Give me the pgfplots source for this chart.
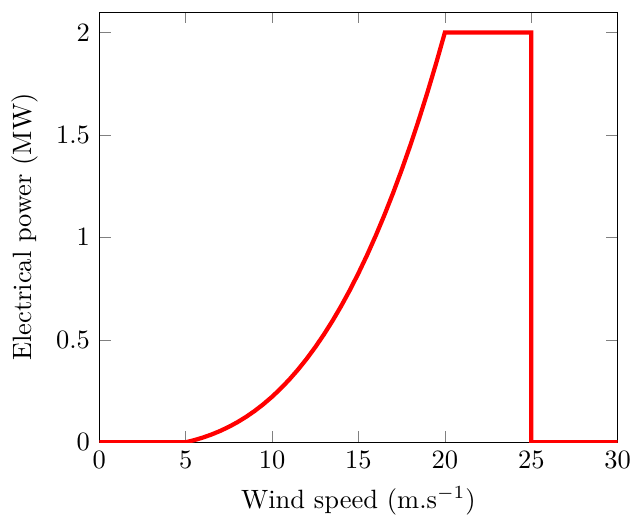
\documentclass[border=0pt]{standalone}
\usepackage{pgfplots}
\pgfplotsset{compat=1.18}
\begin{document}
\begin{tikzpicture}
\begin{axis}[
  scale only axis,
  width=195.8pt, height=162.5pt,
  xmin=0, xmax=30, ymin=0, ymax=2.1,
  xlabel={Wind speed (m.s$^{-1}$)},
  ylabel={Electrical power (MW)},
  xtick={0,5,10,15,20,25,30},
  ytick={0,0.5,1,1.5,2},
]
\addplot[red, ultra thick, line join=miter] coordinates {
(0,0) (5,0) (5.5,0.0105) (6,0.0231) (6.5,0.0380) (7,0.0554) (7.5,0.0754)
(8,0.0983) (8.5,0.1242) (9,0.1534) (9.5,0.1860) (10,0.2222) (10.5,0.2623)
(11,0.3063) (11.5,0.3545) (12,0.4071) (12.5,0.4643) (13,0.5262) (13.5,0.5931)
(14,0.6651) (14.5,0.7425) (15,0.8254) (15.5,0.9140) (16,1.0085) (16.5,1.1091)
(17,1.2160) (17.5,1.3294) (18,1.4494) (18.5,1.5763) (19,1.7102) (19.5,1.8514)
(20,2) (25,2) (25,0) (30,0)
};
\end{axis}
\pgfresetboundingbox
\path ([xshift=-37.5pt,yshift=-28pt]current axis.south west) rectangle ([xshift=4.66pt,yshift=4.55pt]current axis.north east);
\end{tikzpicture}
\end{document}
